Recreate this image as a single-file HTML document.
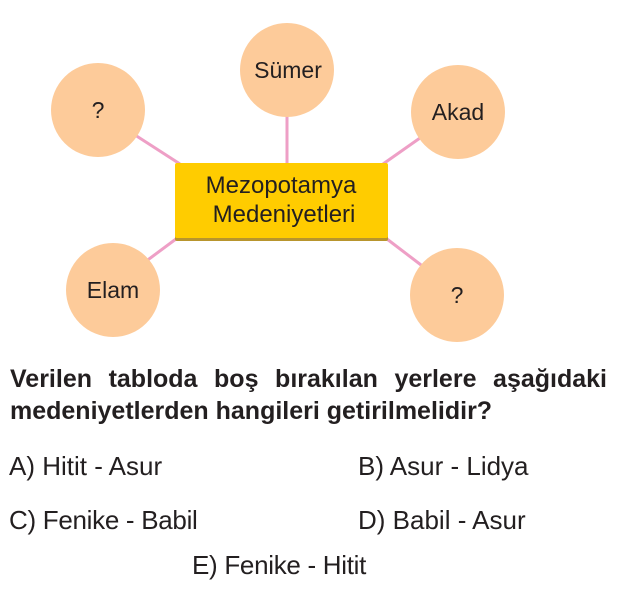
<!DOCTYPE html>
<html><head><meta charset="utf-8"><style>
body{margin:0;width:617px;height:606px;background:#fff;position:relative;font-family:"Liberation Sans",sans-serif;color:#231f20;overflow:hidden}
.t{position:absolute;white-space:nowrap}
</style></head><body>
<svg width="617" height="360" style="position:absolute;left:0;top:0">
<g stroke="#ee9fc6" stroke-width="3">
<line x1="287" y1="110" x2="287" y2="165"/>
<line x1="135" y1="135" x2="180" y2="164"/>
<line x1="420" y1="138" x2="383" y2="164"/>
<line x1="145" y1="262" x2="180" y2="236"/>
<line x1="425" y1="268" x2="383" y2="236"/>
</g>
<g fill="#fdcb9a">
<circle cx="287" cy="70" r="47"/>
<circle cx="98" cy="110" r="47"/>
<circle cx="458" cy="112" r="47"/>
<circle cx="113" cy="290" r="47"/>
<circle cx="457" cy="295" r="47"/>
</g>
<rect x="175" y="166" width="213" height="75" rx="2" fill="#b8952d"/>
<rect x="175" y="163" width="213" height="75" rx="2" fill="#ffcc00"/>
<g font-family="Liberation Sans,sans-serif" font-size="23" fill="#231f20" text-anchor="middle">
<text x="288" y="78">Sümer</text>
<text x="98" y="118">?</text>
<text x="458" y="120">Akad</text>
<text x="113" y="298">Elam</text>
<text x="457" y="303">?</text>
<text x="281" y="193" font-size="24">Mezopotamya</text>
<text x="284" y="222" font-size="24">Medeniyetleri</text>
</g>
</svg>
<div class="t" style="left:10px;top:365px;font-weight:bold;font-size:25px;width:597px;text-align:justify;text-align-last:justify">Verilen tabloda boş bırakılan yerlere aşağıdaki</div>
<div class="t" style="left:10px;top:397px;font-weight:bold;font-size:25px">medeniyetlerden hangileri getirilmelidir?</div>
<div class="t" style="left:9px;top:451px;font-size:26px;line-height:30px">A) Hitit - Asur</div>
<div class="t" style="left:358px;top:451px;font-size:26px;line-height:30px">B) Asur - Lidya</div>
<div class="t" style="left:9px;top:505px;font-size:26px;line-height:30px;letter-spacing:-0.3px">C) Fenike - Babil</div>
<div class="t" style="left:358px;top:505px;font-size:26px;line-height:30px">D) Babil - Asur</div>
<div class="t" style="left:192px;top:550px;font-size:26px;line-height:30px;letter-spacing:-0.3px">E) Fenike - Hitit</div>
</body></html>
